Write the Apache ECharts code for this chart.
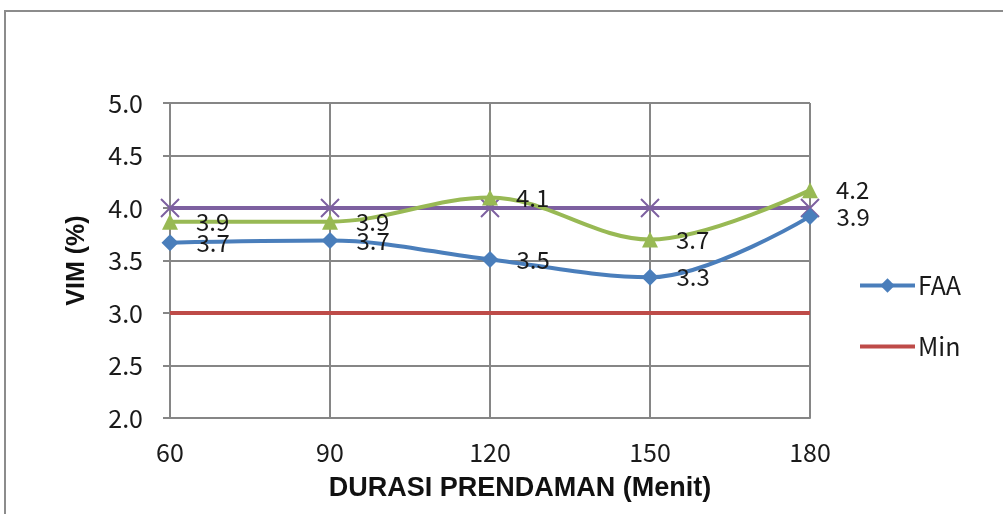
<!DOCTYPE html>
<html>
<head>
<meta charset="utf-8">
<script src="https://cdn.jsdelivr.net/npm/echarts@6/dist/echarts.min.js"></script>
<style>
  html, body { margin: 0; padding: 0; background: #fff; }
  #chart { width: 1003px; height: 514px; }
</style>
</head>
<body>
<div id="chart"></div>
<script>
// 数据
var durasi = ['60', '90', '120', '150', '180'];
var faa = [3.67, 3.69, 3.51, 3.34, 3.92];
var minVal = [3.0, 3.0, 3.0, 3.0, 3.0];
var seri2 = [3.87, 3.87, 4.10, 3.70, 4.17];
var maxVal = [4.0, 4.0, 4.0, 4.0, 4.0];

(function () {
    var chart = echarts.init(document.getElementById('chart'));
    var fontJp = '"Noto Sans CJK JP", "Noto Sans", sans-serif';
    var fontTitle = '"Liberation Sans", Arial, sans-serif';

    var labelStyle = {
        show: true,
        position: 'right',
        distance: 18,
        fontFamily: fontJp,
        fontSize: 24,
        color: '#1a1a1a',
        formatter: function (p) { return p.value.toFixed(1); }
    };

    var option = {
        animation: false,
        graphic: [{
            type: 'rect',
            shape: { x: 5, y: 11, width: 1100, height: 600 },
            style: { fill: 'none', stroke: '#8c8c8c', lineWidth: 2 },
            silent: true
        }],
        grid: { left: 170, right: 193, top: 103, bottom: 96 },
        legend: {
            orient: 'vertical',
            left: 853,
            top: 268,
            itemGap: 36,
            itemWidth: 55,
            itemHeight: 18,
            lineStyle: { width: 4 },
            textStyle: { fontFamily: fontJp, fontSize: 25, color: '#1a1a1a', padding: [0, 0, 0, -2] },
            data: [
                { name: 'FAA' },
                { name: 'Min', itemStyle: { opacity: 0 } }
            ]
        },
        xAxis: {
            type: 'category',
            data: durasi,
            boundaryGap: false,
            name: 'DURASI PRENDAMAN (Menit)',
            nameLocation: 'middle',
            nameGap: 57,
            nameTextStyle: { fontFamily: fontTitle, fontWeight: 'bold', fontSize: 27, color: '#111',
                padding: [0, 0, 0, 60] },
            axisLine: { lineStyle: { color: '#868686', width: 2 } },
            axisTick: { show: false },
            axisLabel: { fontFamily: fontJp, fontSize: 25, color: '#1a1a1a', margin: 22 },
            splitLine: { show: true, lineStyle: { color: '#868686', width: 2 } }
        },
        yAxis: {
            type: 'value',
            min: 2,
            max: 5,
            interval: 0.5,
            name: 'VIM (%)',
            nameLocation: 'middle',
            nameGap: 80,
            nameRotate: 90,
            nameTextStyle: { fontFamily: fontTitle, fontWeight: 'bold', fontSize: 25, color: '#111' },
            axisLine: { show: true, lineStyle: { color: '#868686', width: 2 } },
            axisTick: { show: true, length: 7, lineStyle: { color: '#868686', width: 2 } },
            axisLabel: { fontFamily: fontJp, fontSize: 25, color: '#1a1a1a', margin: 27,
                formatter: function (v) { return v.toFixed(1); } },
            splitLine: { show: true, lineStyle: { color: '#868686', width: 2 } }
        },
        series: [
            {
                name: 'Max',
                type: 'line',
                data: maxVal,
                symbol: 'path://M0,0 L10,10 M10,0 L0,10',
                symbolSize: 18,
                itemStyle: { color: 'none', borderColor: '#7d60a0', borderWidth: 2 },
                lineStyle: { color: '#7d60a0', width: 4 },
                z: 3
            },
            {
                name: 'Min',
                type: 'line',
                data: minVal,
                showSymbol: false,
                lineStyle: { color: '#be4b48', width: 4 },
                itemStyle: { color: '#be4b48' },
                z: 3
            },
            {
                name: 'Seri2',
                type: 'line',
                data: seri2,
                smooth: 0.35,
                symbol: 'triangle',
                symbolSize: 16,
                itemStyle: { color: '#98b954' },
                lineStyle: { color: '#98b954', width: 4 },
                label: labelStyle,
                z: 4
            },
            {
                name: 'FAA',
                type: 'line',
                data: faa,
                smooth: 0.35,
                symbol: 'diamond',
                symbolSize: 17,
                itemStyle: { color: '#4a7ebb' },
                lineStyle: { color: '#4a7ebb', width: 4 },
                label: labelStyle,
                z: 5
            }
        ]
    };

    chart.setOption(option);
})();
</script>
</body>
</html>
